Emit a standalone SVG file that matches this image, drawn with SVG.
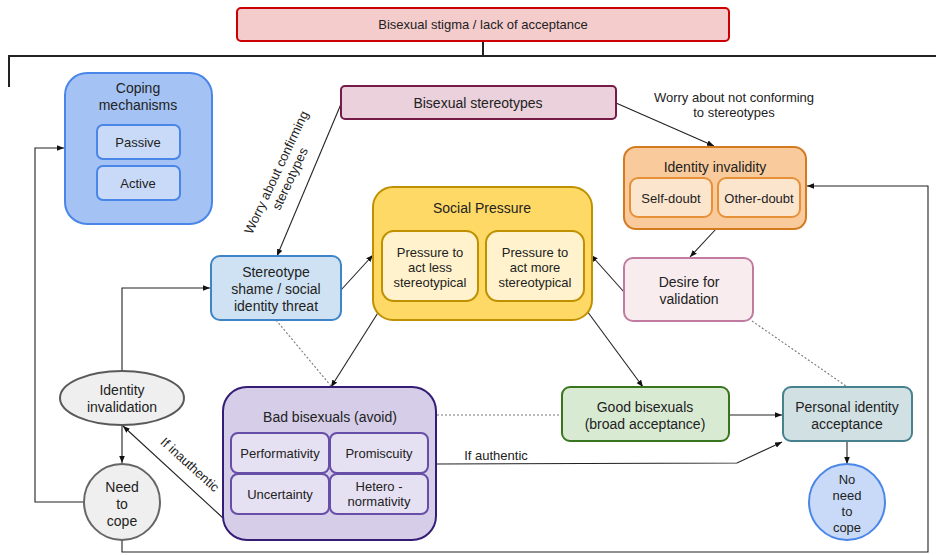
<svg xmlns="http://www.w3.org/2000/svg" width="936" height="555" viewBox="0 0 936 555">
<defs>
<marker id="ah" viewBox="0 0 10 10" refX="10" refY="5" markerWidth="7" markerHeight="7" orient="auto" markerUnits="userSpaceOnUse">
<path d="M0,1 L10,5 L0,9 z" fill="#111"/>
</marker>
<style>
text{font-family:"Liberation Sans",Arial,sans-serif;font-size:13px;fill:#222;text-anchor:middle}
.t14{font-size:14px}
.c{fill:none;stroke:#222;stroke-width:1.1}
.a{marker-end:url(#ah)}
.d{fill:none;stroke:#777;stroke-width:1.1;stroke-dasharray:2 2}
.frame{fill:none;stroke:#222;stroke-width:2}
</style>
</defs>
<rect width="936" height="555" fill="#fff"/>

<g id="connectors">
<path class="frame" d="M483,41 V56 M9,87 V56 H936"/>
<path class="c a" d="M122,502 H35 V148 H64"/>
<path class="c a" d="M122,371 V288 H210"/>
<path class="c a" d="M122,425 V463"/>
<path class="c a" d="M223,518 L123,426"/>
<path class="c a" d="M341,104 L277,256"/>
<path class="c a" d="M616,103 L714,146"/>
<path class="c a" d="M716,229 L690,257"/>
<path class="c a" d="M624,292 L591,255"/>
<path class="c a" d="M341,290 L373,255"/>
<path class="c a" d="M381,308 L331,387"/>
<path class="c a" d="M587,311 L643,387"/>
<path class="c a" d="M729,415 L782,415"/>
<path class="c a" d="M436,464 L737,463 L782,442"/>
<path class="c a" d="M847,441 L847,464"/>
<path class="c a" d="M122,540 V552 H928 V186 H807"/>
<path class="d" d="M276,320 L331,386"/>
<path class="d" d="M437,415 L562,415"/>
<path class="d" d="M752,321 L846,386"/>
<text transform="translate(284,176) rotate(-65)"><tspan x="0" y="-4">Worry about confirming</tspan><tspan x="0" y="11">stereotypes</tspan></text>
<text x="734" y="102">Worry about not conforming</text>
<text x="734" y="117">to  stereotypes</text>
<text transform="translate(187,468) rotate(42)">If inauthentic</text>
<text x="496" y="460">If authentic</text>
</g>

<g id="stigma">
<rect x="237" y="8" width="492" height="33" rx="4" fill="#f4cccc" stroke="#cc0000" stroke-width="2"/>
<text x="483" y="29">Bisexual stigma / lack of acceptance</text>
</g>

<g id="coping">
<rect x="65" y="73" width="147" height="151" rx="22" fill="#a4c2f4" stroke="#4a86e8" stroke-width="2"/>
<text x="138" y="93" class="t14">Coping</text>
<text x="138" y="110" class="t14">mechanisms</text>
<rect x="97" y="125" width="83" height="34" rx="6" fill="#c9daf8" stroke="#4a86e8" stroke-width="2"/>
<text x="138" y="147">Passive</text>
<rect x="97" y="166" width="83" height="34" rx="6" fill="#c9daf8" stroke="#4a86e8" stroke-width="2"/>
<text x="138" y="188">Active</text>
</g>

<g id="stereotypes">
<rect x="341" y="86" width="275" height="33" rx="4" fill="#ead1dc" stroke="#741b47" stroke-width="2"/>
<text x="478" y="108" class="t14">Bisexual stereotypes</text>
</g>

<g id="invalidity">
<rect x="624" y="147" width="182" height="82" rx="12" fill="#f9cb9c" stroke="#d47a1f" stroke-width="2"/>
<text x="715" y="172" class="t14">Identity invalidity</text>
<rect x="630" y="178" width="82" height="39" rx="8" fill="#fce5cd" stroke="#e69138" stroke-width="2"/>
<text x="671" y="203">Self-doubt</text>
<rect x="718" y="178" width="82" height="39" rx="8" fill="#fce5cd" stroke="#e69138" stroke-width="2"/>
<text x="759" y="203">Other-doubt</text>
</g>

<g id="social">
<rect x="373" y="187" width="219" height="133" rx="20" fill="#ffd966" stroke="#bf9000" stroke-width="2"/>
<text x="482" y="213" class="t14">Social Pressure</text>
<rect x="382" y="231" width="96" height="70" rx="12" fill="#fff2cc" stroke="#bf9000" stroke-width="2"/>
<text x="430" y="257">Pressure to</text>
<text x="430" y="272">act less</text>
<text x="430" y="287">stereotypical</text>
<rect x="486" y="231" width="98" height="70" rx="12" fill="#fff2cc" stroke="#bf9000" stroke-width="2"/>
<text x="535" y="257">Pressure to</text>
<text x="535" y="272">act more</text>
<text x="535" y="287">stereotypical</text>
</g>

<g id="shame">
<rect x="211" y="256" width="130" height="64" rx="9" fill="#cfe2f3" stroke="#3d85c6" stroke-width="2"/>
<text x="276" y="277" class="t14">Stereotype</text>
<text x="276" y="294" class="t14">shame / social</text>
<text x="276" y="311" class="t14">identity threat</text>
</g>

<g id="desire">
<rect x="624" y="258" width="129" height="63" rx="9" fill="#f8ecee" stroke="#c27ba0" stroke-width="2"/>
<text x="689" y="287" class="t14">Desire for</text>
<text x="689" y="304" class="t14">validation</text>
</g>

<g id="invalidation">
<ellipse cx="122" cy="398" rx="62" ry="27" fill="#efefef" stroke="#595959" stroke-width="2"/>
<text x="122" y="395" class="t14">Identity</text>
<text x="122" y="412" class="t14">invalidation</text>
</g>

<g id="needcope">
<circle cx="122" cy="502" r="38" fill="#efefef" stroke="#666" stroke-width="2"/>
<text x="122" y="492" class="t14">Need</text>
<text x="122" y="509" class="t14">to</text>
<text x="122" y="526" class="t14">cope</text>
</g>

<g id="bad">
<rect x="223" y="387" width="213" height="153" rx="24" fill="#d6cee9" stroke="#351c75" stroke-width="2"/>
<text x="330" y="422" class="t14">Bad bisexuals (avoid)</text>
<rect x="231" y="433" width="98" height="40" rx="7" fill="#e6e1f2" stroke="#674ea7" stroke-width="2"/>
<text x="280" y="458">Performativity</text>
<rect x="330" y="433" width="98" height="40" rx="7" fill="#e6e1f2" stroke="#674ea7" stroke-width="2"/>
<text x="379" y="458">Promiscuity</text>
<rect x="231" y="474" width="98" height="40" rx="7" fill="#e6e1f2" stroke="#674ea7" stroke-width="2"/>
<text x="280" y="499">Uncertainty</text>
<rect x="330" y="474" width="98" height="40" rx="7" fill="#e6e1f2" stroke="#674ea7" stroke-width="2"/>
<text x="379" y="491">Hetero -</text>
<text x="379" y="506">normativity</text>
</g>

<g id="good">
<rect x="562" y="387" width="167" height="54" rx="8" fill="#d9ead3" stroke="#38761d" stroke-width="2"/>
<text x="645" y="412" class="t14">Good bisexuals</text>
<text x="645" y="429" class="t14">(broad acceptance)</text>
</g>

<g id="personal">
<rect x="783" y="387" width="129" height="54" rx="8" fill="#d0e0e3" stroke="#45818e" stroke-width="2"/>
<text x="847" y="412" class="t14">Personal identity</text>
<text x="847" y="429" class="t14">acceptance</text>
</g>

<g id="noneed">
<circle cx="847" cy="502" r="38" fill="#c9daf8" stroke="#4a86e8" stroke-width="2"/>
<text x="847" y="484">No</text>
<text x="847" y="500">need</text>
<text x="847" y="516">to</text>
<text x="847" y="532">cope</text>
</g>
</svg>
